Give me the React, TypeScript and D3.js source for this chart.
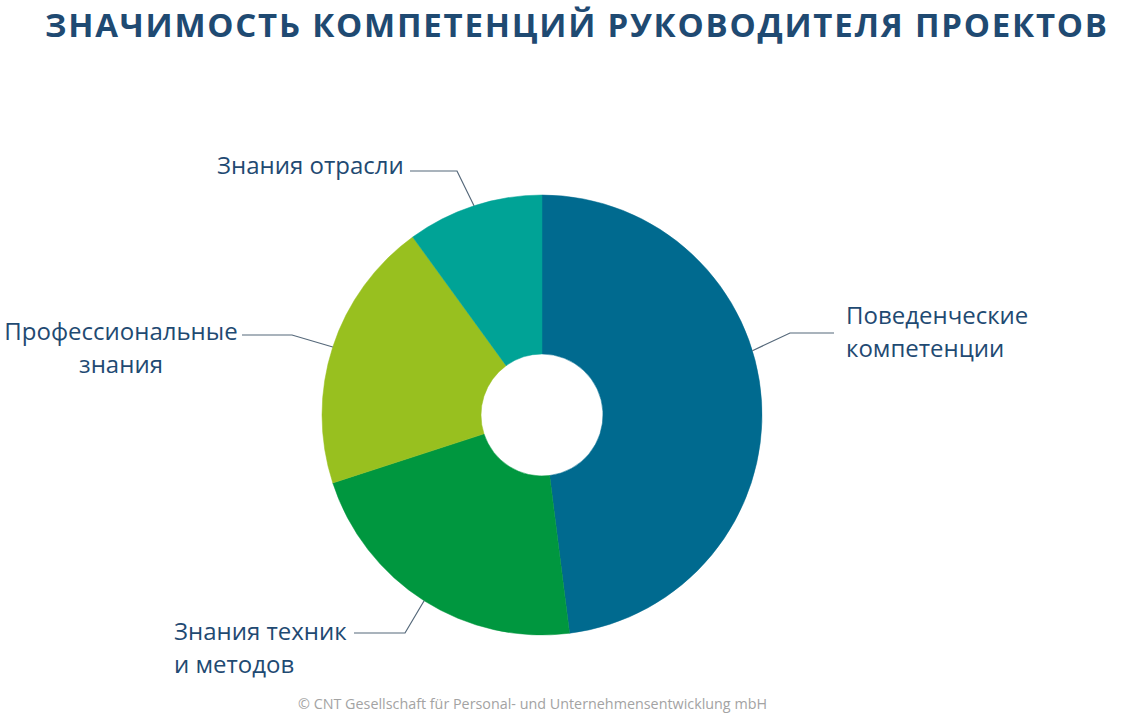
import React, { useEffect, useRef } from 'react'
import * as d3 from 'd3'

// slices clockwise from 12 o'clock
const categories = ['Поведенческие компетенции', 'Знания техник и методов', 'Профессиональные знания', 'Знания отрасли']
const values = [48, 22, 20, 10]
const colors = ['#006a8f', '#00973f', '#98c01f', '#00a396']

const title = 'ЗНАЧИМОСТЬ КОМПЕТЕНЦИЙ РУКОВОДИТЕЛЯ ПРОЕКТОВ'
const footer = '© CNT Gesellschaft für Personal- und Unternehmensentwicklung mbH'

// label layout: lines of text, text anchor point, leader elbow/end
const labelLayout = [
    { lines: ['Поведенческие', 'компетенции'], x: 846, y: 324, anchor: 'start', angle: 73, elbowX: 790, endX: 834, lineY: 333 },
    { lines: ['Знания техник', 'и методов'], x: 174, y: 640, anchor: 'start', angle: null, elbowX: 405, endX: 354, lineY: 633 },
    { lines: ['Профессиональные', 'знания'], x: 121, y: 340, anchor: 'middle', angle: null, elbowX: 292, endX: 242, lineY: 335 },
    { lines: ['Знания отрасли'], x: 217, y: 174, anchor: 'start', angle: null, elbowX: 457, endX: 410, lineY: 171 },
]

const W = 1133
const H = 721

const App: React.FC = () => {
    const svgRef = useRef<SVGSVGElement>(null)

    useEffect(() => {
        document.body.style.margin = '0'
        if (!svgRef.current) return
        const svg = d3.select(svgRef.current)
        svg.selectAll('*').remove()

        const cx = 542
        const cy = 415
        const outerR = 220
        const innerR = 61

        svg.append('rect').attr('width', W).attr('height', H).attr('fill', '#fff')

        // Title
        svg.append('text')
            .attr('x', 45)
            .attr('y', 37)
            .attr('textLength', 1062)
            .attr('lengthAdjust', 'spacing')
            .style('font-family', '"Open Sans", sans-serif')
            .style('font-weight', 700)
            .style('font-size', '33px')
            .style('fill', '#1f4a72')
            .text(title)

        const pie = d3.pie<number>().sort(null).value(d => d)
        const arcs = pie(values)
        const arc = d3.arc<d3.PieArcDatum<number>>().innerRadius(innerR).outerRadius(outerR)

        const g = svg.append('g').attr('transform', `translate(${cx},${cy})`)

        g.selectAll('path.slice')
            .data(arcs)
            .enter().append('path')
            .attr('class', 'slice')
            .attr('d', arc)
            .attr('fill', (d, i) => colors[i])
            .attr('stroke', (d, i) => colors[i])
            .attr('stroke-width', 0.5)

        // Leader lines + labels
        arcs.forEach((a, i) => {
            const l = labelLayout[i]
            const ang = l.angle != null ? (l.angle * Math.PI) / 180 : (a.startAngle + a.endAngle) / 2
            const px = cx + outerR * Math.sin(ang)
            const py = cy - outerR * Math.cos(ang)
            svg.append('polyline')
                .attr('points', `${px},${py} ${l.elbowX},${l.lineY} ${l.endX},${l.lineY}`)
                .attr('fill', 'none')
                .attr('stroke', '#55687a')
                .attr('stroke-width', 1.2)

            const t = svg.append('text')
                .attr('text-anchor', l.anchor)
                .style('font-family', '"Open Sans", sans-serif')
                .style('font-size', '24px')
                .style('fill', '#1f4a72')
            l.lines.forEach((s, j) => {
                t.append('tspan').attr('x', l.x).attr('y', l.y + j * 32.5).text(s)
            })
        })

        // Footer
        svg.append('text')
            .attr('x', 298)
            .attr('y', 709)
            .attr('textLength', 469)
            .attr('lengthAdjust', 'spacingAndGlyphs')
            .style('font-family', '"Open Sans", sans-serif')
            .style('font-size', '14px')
            .style('fill', '#a3a3a3')
            .text(footer)
    }, [])

    return <svg ref={svgRef} width={W} height={H} viewBox={`0 0 ${W} ${H}`} style={{ display: 'block' }} />
}

export default App
